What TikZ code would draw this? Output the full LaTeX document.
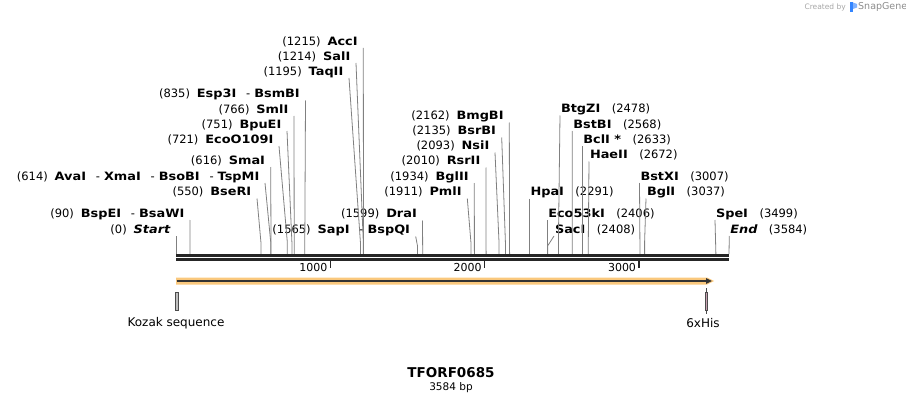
\documentclass[tikz,border=0pt]{standalone}
\usepackage{fontspec}
\setmainfont{DejaVu Sans}
\newfontfamily\enzfont[FakeStretch=1.12]{DejaVu Sans}
\usetikzlibrary{arrows.meta}

\definecolor{orfband}{RGB}{250,200,125}
\definecolor{hisfill}{RGB}{200,160,178}
\newcommand{\enz}[1]{{\enzfont\bfseries #1}}
\newcommand{\sitegap}{\hspace{0.6em}}
\newcommand{\sitedash}{\hspace{0.85em}-\hspace{0.35em}}

\begin{document}
\begin{tikzpicture}[x=1pt, y=-1pt, font=\fontsize{11.5}{13}\selectfont]
    \tikzstyle{site left} = [anchor=south east, inner xsep=5.5pt, inner ysep=0.5pt, text height=8pt, text depth=2pt]
    \tikzstyle{site right} = [anchor=south west, inner xsep=0.8pt, inner ysep=0.5pt, text height=8pt, text depth=2pt]
    \tikzstyle{site line} = [draw=black!50, line width=0.8pt]
    \tikzstyle{backbone} = [draw=black!85, line width=3pt]
    \tikzstyle{ruler tick} = [draw=black!85, line width=1.6pt]
    \tikzstyle{ruler label} = [anchor=east, inner sep=0pt, font=\fontsize{11}{12}\selectfont]
    \tikzstyle{feature box} = [draw=black!70, line width=0.6pt]
    \tikzstyle{feature label} = [inner sep=0pt, font=\fontsize{12}{14}\selectfont]
\useasboundingbox (0,0) rectangle (906,404);
% sites on the backbone
\coordinate (s0) at (176.0,254);
\coordinate (s90) at (189.9,254);
\coordinate (s550) at (260.9,254);
\coordinate (s614) at (270.7,254);
\coordinate (s616) at (271.0,254);
\coordinate (s721) at (287.3,254);
\coordinate (s751) at (291.9,254);
\coordinate (s766) at (294.2,254);
\coordinate (s835) at (304.8,254);
\coordinate (s1195) at (360.4,254);
\coordinate (s1214) at (363.3,254);
\coordinate (s1215) at (363.5,254);
\coordinate (s1565) at (417.5,254);
\coordinate (s1599) at (422.7,254);
\coordinate (s1911) at (470.9,254);
\coordinate (s1934) at (474.4,254);
\coordinate (s2010) at (486.1,254);
\coordinate (s2093) at (499.0,254);
\coordinate (s2135) at (505.4,254);
\coordinate (s2162) at (509.6,254);
\coordinate (s2291) at (529.5,254);
\coordinate (s2406) at (547.3,254);
\coordinate (s2408) at (547.6,254);
\coordinate (s2478) at (558.4,254);
\coordinate (s2568) at (572.2,254);
\coordinate (s2633) at (582.3,254);
\coordinate (s2672) at (588.3,254);
\coordinate (s3007) at (640.0,254);
\coordinate (s3037) at (644.6,254);
\coordinate (s3499) at (715.9,254);
\coordinate (s3584) at (729.0,254);
% site labels
\node[site left] (start) at (176,236) {(0)\sitegap\enz{\itshape Start}};
\node[site left] (bspei) at (190,220) {(90)\sitegap\enz{BspEI}\sitedash\enz{BsaWI}};
\node[site left] (bseri) at (257,198.5) {(550)\sitegap\enz{BseRI}};
\node[site left] (avai) at (265,183) {(614)\sitegap\enz{AvaI}\sitedash\enz{XmaI}\sitedash\enz{BsoBI}\sitedash\enz{TspMI}};
\node[site left] (smai) at (270.7,167) {(616)\sitegap\enz{SmaI}};
\node[site left] (ecoo) at (279,146) {(721)\sitegap\enz{EcoO109I}};
\node[site left] (bpuei) at (287,131) {(751)\sitegap\enz{BpuEI}};
\node[site left] (smli) at (294,116) {(766)\sitegap\enz{SmlI}};
\node[site left] (esp3i) at (305.5,100.5) {(835)\sitegap\enz{Esp3I}\sitedash\enz{BsmBI}};
\node[site left] (taqii) at (349,78) {(1195)\sitegap\enz{TaqII}};
\node[site left] (sali) at (356,63) {(1214)\sitegap\enz{SalI}};
\node[site left] (acci) at (363.3,48) {(1215)\sitegap\enz{AccI}};
\node[site left] (sapi) at (415.7,236.5) {(1565)\sitegap\enz{SapI}\sitedash\enz{BspQI}};
\node[site left] (drai) at (422.5,220.5) {(1599)\sitegap\enz{DraI}};
\node[site left] (pmli) at (467.3,198.5) {(1911)\sitegap\enz{PmlI}};
\node[site left] (bglii) at (474.3,183) {(1934)\sitegap\enz{BglII}};
\node[site left] (rsrii) at (486,167.5) {(2010)\sitegap\enz{RsrII}};
\node[site left] (nsii) at (495,152.5) {(2093)\sitegap\enz{NsiI}};
\node[site left] (bsrbi) at (501.7,137.5) {(2135)\sitegap\enz{BsrBI}};
\node[site left] (bmgbi) at (509.3,122.5) {(2162)\sitegap\enz{BmgBI}};
\node[site right] (hpai) at (529.5,198.5) {\enz{HpaI}\hspace{1em}(2291)};
\node[site right] (eco53ki) at (547.3,220) {\enz{Eco53kI}\hspace{1em}(2406)};
\node[site right] (saci) at (554,236) {\enz{SacI}\hspace{1em}(2408)};
\node[site right] (btgzi) at (560,115.5) {\enz{BtgZI}\hspace{1em}(2478)};
\node[site right] (bstbi) at (572.3,131) {\enz{BstBI}\hspace{1em}(2568)};
\node[site right] (bcli) at (582.3,146) {\enz{BclI *}\hspace{1em}(2633)};
\node[site right] (haeii) at (589,161.5) {\enz{HaeII}\hspace{1em}(2672)};
\node[site right] (bstxi) at (639.5,183) {\enz{BstXI}\hspace{1em}(3007)};
\node[site right] (bgli) at (646,198.5) {\enz{BglI}\hspace{1em}(3037)};
\node[site right] (spei) at (715,220) {\enz{SpeI}\hspace{1em}(3499)};
\node[site right] (endsite) at (729.3,236) {\enz{\itshape End}\hspace{1em}(3584)};
% site lines
\draw[site line] (start.south east) -- (s0);
\draw[site line] (bspei.south east) -- (s90);
\draw[site line] (bseri.south east) -- ([yshift=12pt]s550) -- (s550);
\draw[site line] (avai.south east) -- ([yshift=12pt]s614) -- (s614);
\draw[site line] (smai.south east) -- ([yshift=12pt]s616) -- (s616);
\draw[site line] (ecoo.south east) -- ([yshift=12pt]s721) -- (s721);
\draw[site line] (bpuei.south east) -- ([yshift=12pt]s751) -- (s751);
\draw[site line] (smli.south east) -- ([yshift=12pt]s766) -- (s766);
\draw[site line] (esp3i.south east) -- ([yshift=12pt]s835) -- (s835);
\draw[site line] (taqii.south east) -- ([yshift=12pt]s1195) -- (s1195);
\draw[site line] (sali.south east) -- ([yshift=12pt]s1214) -- (s1214);
\draw[site line] (acci.south east) -- ([yshift=12pt]s1215) -- (s1215);
\draw[site line] (sapi.south east) -- ([yshift=8pt]s1565) -- (s1565);
\draw[site line] (drai.south east) -- (s1599);
\draw[site line] (pmli.south east) -- ([yshift=12pt]s1911) -- (s1911);
\draw[site line] (bglii.south east) -- (s1934);
\draw[site line] (rsrii.south east) -- (s2010);
\draw[site line] (nsii.south east) -- ([yshift=12pt]s2093) -- (s2093);
\draw[site line] (bsrbi.south east) -- ([yshift=12pt]s2135) -- (s2135);
\draw[site line] (bmgbi.south east) -- (s2162);
\draw[site line] (hpai.south west) -- (s2291);
\draw[site line] (eco53ki.south west) -- (s2406);
\draw[site line] (saci.south west) -- ([yshift=8pt]s2408) -- (s2408);
\draw[site line] (btgzi.south west) -- ([yshift=12pt]s2478) -- (s2478);
\draw[site line] (bstbi.south west) -- (s2568);
\draw[site line] (bcli.south west) -- (s2633);
\draw[site line] (haeii.south west) -- ([yshift=12pt]s2672) -- (s2672);
\draw[site line] (bstxi.south west) -- (s3007);
\draw[site line] (bgli.south west) -- ([yshift=12pt]s3037) -- (s3037);
\draw[site line] (spei.south west) -- (s3499);
\draw[site line] (endsite.south west) -- (s3584);
% backbone and ruler
\coordinate (bbl) at (176,255.5);
\coordinate (bbr) at (729,255.5);
\draw[backbone] (bbl) -- (bbr);
\draw[backbone] ([yshift=-4pt]bbl) -- ([yshift=-4pt]bbr);
\coordinate (t1000) at (330.3,261);
\coordinate (t2000) at (484.6,261);
\coordinate (t3000) at (639.0,261);
\draw[ruler tick] (t1000) -- ++(0,7);
\draw[ruler tick] (t2000) -- ++(0,7);
\draw[ruler tick] (t3000) -- ++(0,7);
\node[ruler label] (l1000) at (327.5,267.5) {1000};
\node[ruler label] (l2000) at (481.8,267.5) {2000};
\node[ruler label] (l3000) at (636.2,267.5) {3000};
% ORF arrow
\fill[orfband] (176,277.5) -- (707,277.5) -- (714,281) -- (707,284.5) -- (176,284.5) -- cycle;
\draw[black!80, line width=1.6pt, -{Triangle[length=6pt, width=5.5pt]}] (176.5,281) -- (712,281);
% features
\draw[feature box, fill=black!25] (175.5,292) rectangle (178,310);
\draw[black!70, line width=0.6pt] (706,288) -- (706,314);
\draw[feature box, fill=hisfill] (704.8,292) rectangle (707.2,310);
\node[feature label] (kozak) at (176,323) {Kozak sequence};
\node[feature label] (his) at (703,323) {6xHis};
% title
\node[inner sep=0pt, font=\fontsize{13.5}{15}\selectfont\bfseries] (title) at (451,373) {TFORF0685};
\node[inner sep=0pt, font=\fontsize{10.5}{12}\selectfont] (size) at (451,388) {3584 bp};
% credit
\node[anchor=east, inner sep=0pt, text=black!35, font=\fontsize{7.5}{9}\selectfont] (created) at (846,7) {Created by};
\fill[blue!60!cyan!80] (850,2.5) rectangle (853,12.5);
\fill[blue!60!cyan!50] (853,2.5) -- (857,4) -- (857,7.5) -- (853,9) -- cycle;
\node[anchor=west, inner sep=0pt, text=black!45, font=\fontsize{9.5}{11}\selectfont] (snapgene) at (858,7) {SnapGene};
\end{tikzpicture}
\end{document}
